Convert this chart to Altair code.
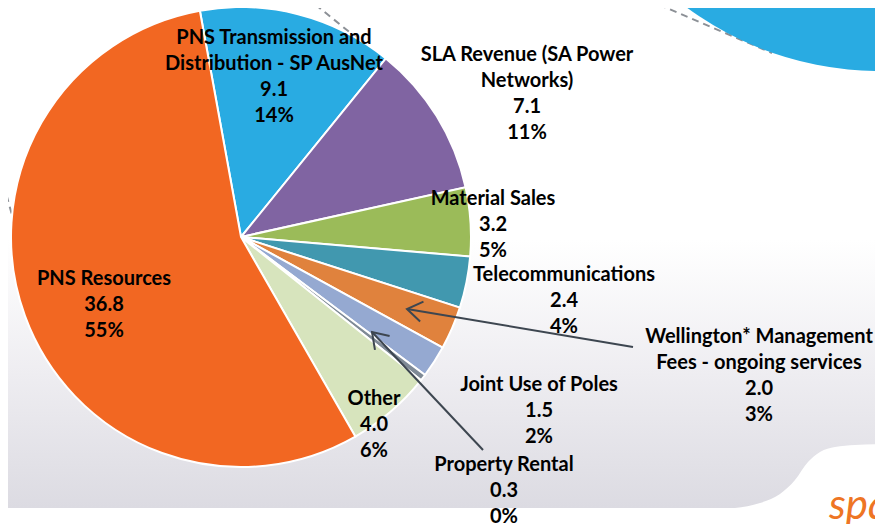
import math
import altair as alt
import pandas as pd

# ---------------- data ----------------
categories = [
    "PNS Transmission and Distribution - SP AusNet",
    "SLA Revenue (SA Power Networks)",
    "Material Sales",
    "Telecommunications",
    "Wellington* Management Fees - ongoing services",
    "Joint Use of Poles",
    "Property Rental",
    "Other",
    "PNS Resources",
]
label_names = [
    "PNS Transmission and\nDistribution - SP AusNet",
    "SLA Revenue (SA Power\nNetworks)",
    "Material Sales",
    "Telecommunications",
    "Wellington* Management\nFees - ongoing services",
    "Joint Use of Poles",
    "Property Rental",
    "Other",
    "PNS Resources",
]
values = [9.1, 7.1, 3.2, 2.4, 2.0, 1.5, 0.3, 4.0, 36.8]
colors = ["#29ABE2", "#8064A2", "#9BBB59", "#4198AF", "#E0823D",
          "#95A9D1", "#7F8A96", "#D7E4BD", "#F26722"]

# ---------------- layout (chart pixels) ----------------
W, H = 867, 516
CX, CY, R = 233, 229, 230
START_DEG = -10.3

label_x = [266, 519, 485, 556, 751, 531, 496, 366, 96]
label_y = [20, 37, 181, 257, 319, 367, 447, 381, 261]

arrow_tail = [(625, 339), (475, 442)]
arrow_tip = [(399, 301), (364, 324)]

total = sum(values)

# ---------------- layers ----------------
pie_df = pd.DataFrame({"cat": categories, "value": values, "idx": list(range(len(values)))})
start = math.radians(START_DEG)
pie = alt.Chart(pie_df).mark_arc(radius=R, stroke="white", strokeWidth=2).encode(
    theta=alt.Theta("value:Q", stack=True,
                    scale=alt.Scale(range=[start, start + 2 * math.pi])),
    color=alt.Color("cat:N", scale=alt.Scale(domain=categories, range=colors), legend=None),
    order=alt.Order("idx:Q"),
    x=alt.value(CX),
    y=alt.value(CY),
)

texts = [f"{n}\n{v:.1f}\n{v / total * 100:.0f}%" for n, v in zip(label_names, values)]
lab_df = pd.DataFrame({"text": texts, "x": label_x, "y": label_y})
labels = alt.Chart(lab_df).mark_text(
    font="Lato", fontSize=20, fontWeight="bold", lineBreak="\n", lineHeight=26,
    align="center", baseline="top", color="black",
).encode(
    x=alt.X("x:Q", scale=None),
    y=alt.Y("y:Q", scale=None),
    text="text:N",
)

# background gradient panel
bg = alt.Chart(pd.DataFrame({"a": [0]})).mark_rect(
    fill=alt.Gradient(
        gradient="linear",
        stops=[
            alt.GradientStop(offset=0, color="#FFFFFF"),
            alt.GradientStop(offset=0.5, color="#EEEDF1"),
            alt.GradientStop(offset=1, color="#DCDBE2"),
        ],
        x1=0, x2=0, y1=0, y2=1,
    )
).encode(x=alt.value(-8), x2=alt.value(W), y=alt.value(232), y2=alt.value(500))

wave_df = pd.DataFrame({
    "x": [727, 752, 772, 787, 800, 812, 827, 847, 875],
    "y": [500, 495, 486, 472, 454, 444, 439, 437, 436],
    "yb": [H] * 9,
})
wave = alt.Chart(wave_df).mark_area(color="white", interpolate="monotone", orient="vertical").encode(
    x=alt.X("x:Q", scale=None),
    y=alt.Y("y:Q", scale=None, stack=None),
    y2="yb:Q",
)

dash_df = pd.DataFrame({
    "x": [640, 298, -8], "y": [-8, -11, 164],
    "x2": [764, 376, 6], "y2": [45, 52, 214],
})
dashes = alt.Chart(dash_df).mark_rule(color="#8C9096", strokeWidth=2, strokeDash=[7, 5]).encode(
    x=alt.X("x:Q", scale=None), y=alt.Y("y:Q", scale=None),
    x2="x2:Q", y2="y2:Q",
)

circle = alt.Chart(pd.DataFrame({"a": [0]})).mark_arc(
    radius=326, theta=0, theta2=2 * math.pi, color="#29ABE2"
).encode(x=alt.value(872), y=alt.value(-263))

arr_df = pd.DataFrame({
    "x": [t[0] for t in arrow_tail], "y": [t[1] for t in arrow_tail],
    "x2": [t[0] for t in arrow_tip], "y2": [t[1] for t in arrow_tip],
    "ang": [math.degrees(math.atan2(p[1] - t[1], p[0] - t[0])) % 360
            for t, p in zip(arrow_tail, arrow_tip)],
})
shafts = alt.Chart(arr_df).mark_rule(color="#3D4650", strokeWidth=2).encode(
    x=alt.X("x:Q", scale=None), y=alt.Y("y:Q", scale=None), x2="x2:Q", y2="y2:Q"
)
heads = alt.Chart(arr_df).mark_point(
    shape="M -1 -0.67 L 0 0 L -1 0.67", size=900, filled=False,
    stroke="#3D4650", strokeWidth=2, opacity=1,
).encode(
    x=alt.X("x2:Q", scale=None), y=alt.Y("y2:Q", scale=None),
    angle=alt.Angle("ang:Q", scale=None),
)

logo = alt.Chart(pd.DataFrame({"t": ["spa"]})).mark_text(
    font="Lato", fontSize=42, fontStyle="italic", color="#EE7524",
    align="left", baseline="alphabetic",
).encode(x=alt.value(821), y=alt.value(511), text="t:N")

chart = alt.layer(bg, wave, dashes, circle, pie, labels, shafts, heads, logo).properties(
    width=W, height=H, padding=0, autosize=alt.AutoSizeParams(type="none")
).configure_view(stroke=None)

chart.save("out.html", embed_options={"renderer": "svg", "actions": False})
